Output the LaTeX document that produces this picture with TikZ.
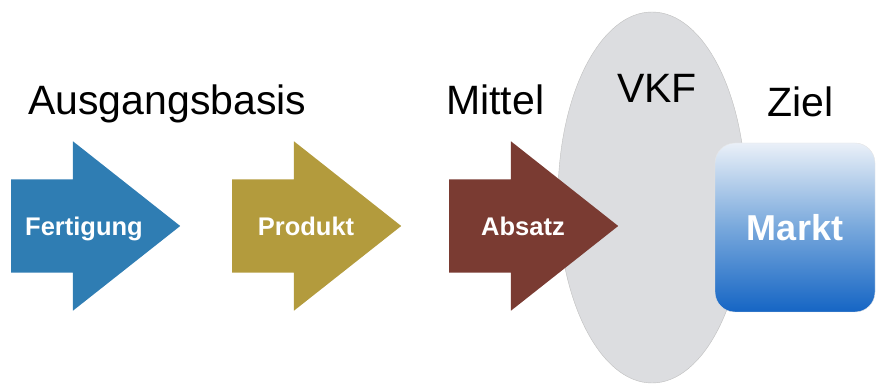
\documentclass[tikz,border=0pt]{standalone}
\usepackage{fontspec}
\setmainfont{Liberation Sans}
\usetikzlibrary{positioning, shapes.geometric, shapes.arrows}

\definecolor{fertblue}{HTML}{2F7DB3}
\definecolor{prodgold}{HTML}{B39B3D}
\definecolor{absbrown}{HTML}{7A3B32}
\definecolor{vkfgray}{HTML}{DCDDE0}
\definecolor{markttop}{HTML}{EAF0F8}
\definecolor{marktmid}{HTML}{78A8DC}
\definecolor{marktbot}{HTML}{1565C4}

\begin{document}
\begin{tikzpicture}[x=1pt, y=1pt,
        bigarrow/.style={single arrow, draw=none, minimum height=169pt, single arrow head extend=38pt, single arrow tip angle=76.6, inner xsep=0pt, inner ysep=46.5pt, anchor=tail},
        arrowtext/.style={text=white, font=\bfseries\fontsize{25.5}{28}\selectfont, inner sep=0pt, anchor=base},
        heading/.style={font=\fontsize{41}{46}\selectfont, anchor=base west, inner sep=0pt}
    ]
    \useasboundingbox (0,0) rectangle (877,385);

    % VKF area behind the last arrow
    \node[ellipse, fill=vkfgray, draw=black!25, line width=0.4pt, minimum width=188pt, minimum height=371pt] (vkf) at (652,187.5) {};

    % the three arrows
    \node[bigarrow, fill=fertblue] (fert) at (11,159) {};
    \node[bigarrow, fill=prodgold] (prod) at (232,159) {};
    \node[bigarrow, fill=absbrown] (abs) at (449,159) {};

    \node[arrowtext] (ferttext) at ([xshift=73pt, yshift=-10pt]fert.tail) {Fertigung};
    \node[arrowtext] (prodtext) at ([xshift=74pt, yshift=-10pt]prod.tail) {Produkt};
    \node[arrowtext] (abstext) at ([xshift=74pt, yshift=-10pt]abs.tail) {Absatz};

    % target box
    \node[rectangle, rounded corners=20pt, minimum width=160pt, minimum height=169pt, top color=markttop, bottom color=marktbot, middle color=marktmid, draw=black!10, text=white, font=\bfseries\fontsize{36}{40}\selectfont] (markt) at (795,157.5) {Markt};

    % headings
    \node[heading] (basis) at (28,270) {Ausgangsbasis};
    \node[heading] (mittel) at (446,270) {Mittel};
    \node[heading] (vkflabel) at (617,282) {VKF};
    \node[heading] (ziel) at (767,268) {Ziel};
\end{tikzpicture}
\end{document}
